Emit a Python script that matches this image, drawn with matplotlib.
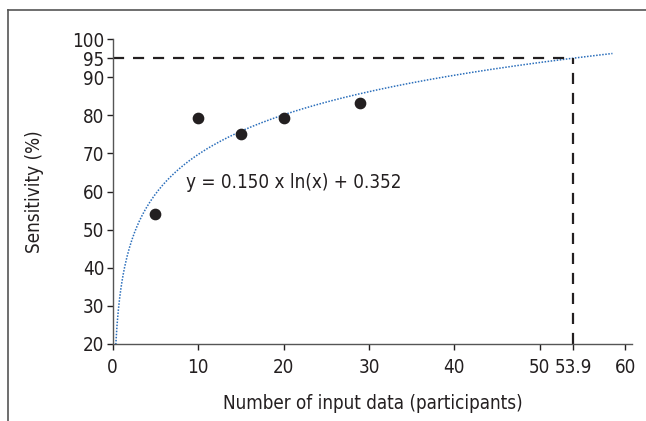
import matplotlib
matplotlib.use("Agg")
import matplotlib.pyplot as plt
from matplotlib.lines import Line2D
import numpy as np

# data
participants = [5, 10, 15, 20, 29]
sensitivity = [54, 79.4, 75, 79.2, 83.3]

# fitted trendline shown on the chart: y = a * ln(x) + b  (fraction)
coef_a = 0.150
coef_b = 0.352
fit_start, fit_end = 0.36, 58.5

target_sens = 95
target_n = 53.9

xticks = [0, 10, 20, 30, 40, 50, 53.9, 60]
xticklabels = ["0", "10", "20", "30", "40", "50", "53.9", "60"]
yticks = [20, 30, 40, 50, 60, 70, 80, 90, 95, 100]

plt.rcParams['font.family'] = ['DejaVu Sans']
plt.rcParams['font.stretch'] = 'condensed'
dark = "#231f20"
fs = 13.5

fig = plt.figure(figsize=(6.46, 4.21), dpi=100)
ax = fig.add_axes([0.1745, 0.183, 0.804, 0.724])

# trend curve
xf = np.linspace(fit_start, fit_end, 400)
yf = (coef_a * np.log(xf) + coef_b) * 100
ax.plot(xf, yf, color="#2a6ebb", lw=1.1, ls=(0, (1, 1)))

# dashed guide lines
ax.plot([0, target_n], [target_sens, target_sens], color=dark, lw=1.6, ls=(0, (5, 4)))
ax.plot([target_n, target_n], [20, target_sens], color=dark, lw=1.6, ls=(0, (5, 4)))

ax.scatter(participants, sensitivity, s=55, color=dark, zorder=3)

ax.text(8.6, 62.3, "y = 0.150 x ln(x) + 0.352", fontsize=fs, color=dark, va="center")

ax.set_xlim(0, 60.8)
ax.set_ylim(20, 100)
ax.set_xticks(xticks)
ax.set_xticklabels(xticklabels)
ax.set_yticks(yticks)
ax.tick_params(labelsize=fs, colors=dark, length=4, width=1)
ax.tick_params(axis="x", pad=6)
ax.tick_params(axis="y", pad=2)
for s in ["top", "right"]:
    ax.spines[s].set_visible(False)
for s in ["left", "bottom"]:
    ax.spines[s].set_color("#555555")
    ax.spines[s].set_linewidth(1)

ax.set_xlabel("Number of input data (participants)", fontsize=fs, color=dark, labelpad=12)
ax.set_ylabel("Sensitivity (%)", fontsize=fs, color=dark, labelpad=20)

# frame around the figure (top and left edges)
fig.add_artist(Line2D([0.013, 1.0], [0.977, 0.977], color="#555555", lw=1.2))
fig.add_artist(Line2D([0.013, 0.013], [0.0, 0.977], color="#555555", lw=1.2))

fig.savefig("out.png", dpi=100)
